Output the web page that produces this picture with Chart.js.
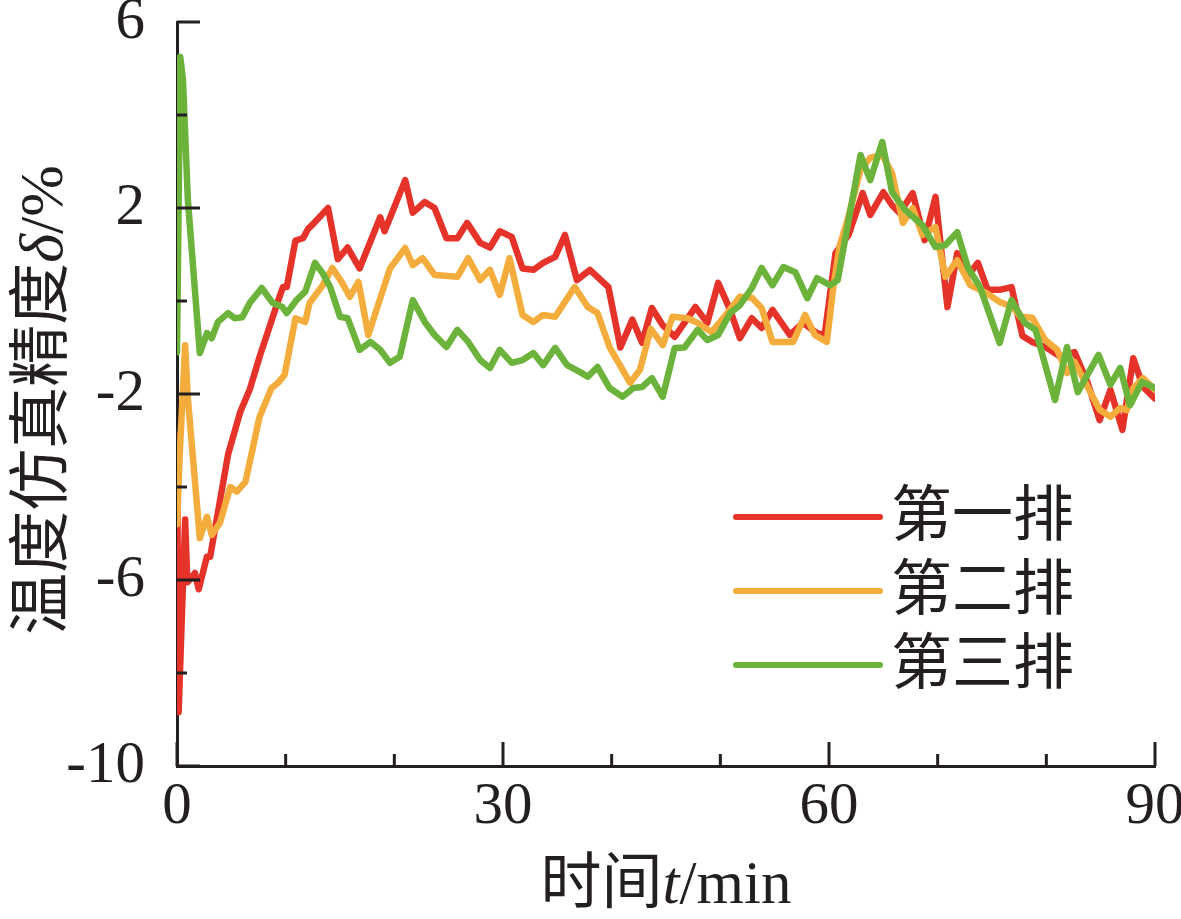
<!DOCTYPE html>
<html>
<head>
<meta charset="utf-8">
<title>温度仿真精度</title>
<script src="https://cdn.jsdelivr.net/npm/chart.js@4.4.1/dist/chart.umd.min.js"></script>
<style>
  html, body { margin: 0; padding: 0; background: #fff; }
  #wrap { width: 1181px; height: 919px; position: relative; }
</style>
</head>
<body>
<div id="wrap"><canvas id="line-chart"></canvas></div>
<script>
// data: waktu (min) & presisi simulasi suhu (%)
const t_pai1 = [0, 0.15, 0.75, 0.95, 1.65, 2, 2.75, 3.05, 3.8, 4.7, 5.8, 6.7, 7.6, 9.3, 9.75, 10.1, 10.9, 11.6, 12.05, 12.5, 13.9, 14.8, 15.7, 16.8, 18.7, 19.1, 21, 21.7, 22.8, 23.7, 24.8, 25.8, 26.7, 27.9, 28.8, 29.7, 30.8, 31.8, 32.8, 33.7, 34.8, 35.7, 36.8, 38, 39.7, 40.8, 41.9, 42.8, 43.7, 44.7, 45.8, 47.7, 48.8, 49.8, 50.9, 51.8, 52.9, 53.8, 54.8, 56.4, 57.6, 58.9, 59.6, 60.6, 61.8, 63.1, 63.8, 65, 65.8, 66.5, 67.7, 68.8, 69.8, 70.9, 71.8, 72.7, 73.7, 74.6, 75.7, 76.8, 77.8, 78.7, 80, 81.3, 82.6, 83.8, 84.9, 85.9, 87, 88, 88.9, 90];
const d_pai1 = [-2.9, -8.84, -4.7, -6.05, -5.85, -6.2, -5.5, -5.5, -4.5, -3.3, -2.4, -1.9, -1.2, 0, 0.3, 0.3, 1.3, 1.35, 1.55, 1.65, 2, 0.9, 1.15, 0.7, 1.8, 1.5, 2.6, 1.9, 2.13, 2, 1.35, 1.35, 1.68, 1.25, 1.15, 1.5, 1.38, 0.7, 0.67, 0.82, 0.95, 1.42, 0.45, 0.67, 0.3, -1, -0.4, -0.9, -0.15, -0.52, -0.77, -0.13, -0.47, 0.39, -0.19, -0.8, -0.37, -0.58, -0.19, -0.73, -0.47, -0.69, -0.73, 1.03, 1.42, 2.32, 1.85, 2.34, 2.06, 1.89, 2.32, 1.31, 2.24, -0.13, 1.03, 0.52, 0.82, 0.24, 0.24, 0.3, -0.75, -0.88, -1.0, -1.2, -1.1, -1.76, -2.56, -1.91, -2.77, -1.23, -1.85, -2.1];

const t_pai2 = [0, 0.25, 0.75, 1, 2.1, 2.75, 3.2, 3.95, 4.9, 5.5, 6.3, 7.6, 8.7, 9.3, 9.9, 10.9, 11.8, 12.2, 13.3, 14.3, 15.2, 15.9, 16.7, 17.6, 19.6, 21, 21.7, 22.6, 23.7, 25.8, 26.8, 27.9, 28.8, 29.7, 30.6, 31.8, 32.8, 33.7, 34.8, 36.6, 37.8, 38.7, 39.8, 41.7, 42.6, 43.6, 44.7, 45.6, 47, 47.9, 49.2, 50.5, 51.8, 52.9, 53.8, 54.8, 56.7, 57.8, 58.7, 59.8, 60.4, 61, 61.7, 62.9, 63.8, 64.9, 65.8, 66.8, 67.7, 68.6, 69.8, 70.7, 71.8, 73, 74.5, 75.7, 76.9, 77.6, 78.7, 79.9, 81, 81.9, 82.6, 83.7, 84.9, 85.9, 86.8, 87.4, 88, 88.9, 90];
const d_pai2 = [-4.8, -3.3, -0.95, -2.1, -5.1, -4.64, -5.03, -4.77, -4, -4.1, -3.89, -2.49, -1.87, -1.76, -1.59, -0.37, -0.45, -0.04, 0.3, 0.71, 0.39, 0.09, 0.41, -0.73, 0.7, 1.14, 0.77, 0.92, 0.56, 0.52, 0.92, 0.45, 0.67, 0.13, 0.92, -0.3, -0.45, -0.3, -0.34, 0.3, -0.13, -0.26, -0.99, -1.76, -1.48, -0.6, -0.95, -0.34, -0.37, -0.47, -0.67, -0.3, 0.09, 0.07, -0.15, -0.88, -0.88, -0.3, -0.73, -0.88, 0.3, 1.2, 1.74, 2.82, 3.08, 3.14, 2.75, 1.68, 2, 1.42, 1.59, 0.52, 0.88, 0.34, 0.17, -0.02, -0.13, -0.34, -0.36, -0.84, -1.05, -1.55, -1.31, -1.8, -2.34, -2.49, -2.3, -2.35, -1.87, -1.66, -1.91];

const t_pai3 = [0, 0.3, 0.55, 1, 2.1, 2.76, 3.2, 3.77, 4.7, 5.3, 6, 6.7, 7.8, 8.8, 9.7, 10.1, 11, 11.8, 12.7, 13.4, 14.1, 15, 15.7, 16.8, 17.8, 18.7, 19.6, 20.5, 21.7, 22.8, 23.7, 24.8, 25.8, 26.8, 27.9, 28.8, 29.7, 30.8, 31.8, 32.8, 33.7, 34.8, 35.9, 37.1, 37.8, 38.7, 39.8, 41, 42, 42.8, 43.7, 44.7, 45.8, 46.7, 47.9, 48.8, 49.8, 50.9, 51.8, 52.9, 53.8, 54.8, 55.8, 56.9, 58, 58.9, 60.1, 60.8, 62.9, 63.8, 64.9, 65.8, 67, 68.6, 69.8, 70.7, 71.8, 72.8, 73.9, 75.7, 76.8, 78, 79, 80.8, 81.9, 82.9, 84.8, 85.9, 86.8, 87.7, 88.8, 90];
const d_pai3 = [-1.1, 5.25, 4.75, 2.17, -1.12, -0.69, -0.8, -0.45, -0.26, -0.37, -0.35, -0.04, 0.28, -0.04, -0.13, -0.26, 0.02, 0.2, 0.82, 0.6, 0.3, -0.34, -0.37, -1.05, -0.88, -1.05, -1.33, -1.2, 0.02, -0.45, -0.73, -0.99, -0.62, -0.88, -1.27, -1.44, -1.05, -1.33, -1.27, -1.12, -1.38, -1.01, -1.38, -1.53, -1.63, -1.42, -1.87, -2.06, -1.87, -1.85, -1.66, -2.06, -1.01, -1, -0.62, -0.84, -0.73, -0.26, -0.09, 0.28, 0.71, 0.34, 0.73, 0.62, 0.06, 0.49, 0.34, 0.45, 3.14, 2.6, 3.42, 2.34, 1.96, 1.63, 1.16, 1.2, 1.48, 0.71, 0.3, -0.9, 0.02, -0.47, -0.62, -2.13, -0.99, -1.96, -1.16, -1.8, -1.44, -2.24, -1.74, -1.87];

const nama_seri = ['第一排', '第二排', '第三排'];
const warna_seri = ['#e6332a', '#f4ad3d', '#6bb33a'];
const label_x = [0, 30, 60, 90];
const label_y = [-10, -6, -2, 2, 6];

const HITAM = '#231f20';
const FONT_ANGKA = '"Liberation Serif", "Times New Roman", serif';
const FONT_CJK = '"Liberation Serif", "Noto Sans CJK SC", serif';

function gabung(t, d) {
    return t.map((x, i) => ({ x: x, y: d[i] }));
}

// tulis teks bersambung (sebagian italic) di tengah titik (cx, cy)
function tulisBagian(ctx, bagian, cx, cy, putar) {
    ctx.save();
    ctx.translate(cx, cy);
    if (putar) ctx.rotate(-Math.PI / 2);
    let total = 0;
    bagian.forEach(b => { ctx.font = b.font; b.w = ctx.measureText(b.text).width; total += b.w; });
    let x = -total / 2;
    ctx.textAlign = 'left';
    ctx.textBaseline = 'middle';
    ctx.fillStyle = HITAM;
    bagian.forEach(b => { ctx.font = b.font; ctx.fillText(b.text, x, 0); x += b.w; });
    ctx.restore();
}

const pluginHiasan = {
    id: 'hiasan',
    afterDraw(chart) {
        const ctx = chart.ctx;
        const area = chart.chartArea;
        const sx = chart.scales.x;
        const sy = chart.scales.y;

        // tick ke dalam
        ctx.save();
        ctx.strokeStyle = HITAM;
        ctx.lineWidth = 3;
        ctx.beginPath();
        sx.ticks.forEach(tk => {
            const px = sx.getPixelForValue(tk.value);
            const len = label_x.includes(tk.value) ? 24 : 12;
            ctx.moveTo(px, area.bottom);
            ctx.lineTo(px, area.bottom - len);
        });
        sy.ticks.forEach(tk => {
            const py = sy.getPixelForValue(tk.value);
            const len = label_y.includes(tk.value) ? 23 : 10;
            ctx.moveTo(area.left, py);
            ctx.lineTo(area.left + len, py);
        });
        ctx.stroke();
        ctx.restore();

        // judul sumbu
        tulisBagian(ctx, [
            { text: '温度仿真精度', font: '62px ' + FONT_CJK },
            { text: 'δ', font: 'italic 62px ' + FONT_ANGKA },
            { text: '/%', font: '62px ' + FONT_ANGKA }
        ], 46, (area.top + area.bottom) / 2 + 6, true);
        tulisBagian(ctx, [
            { text: '时间', font: '61px ' + FONT_CJK },
            { text: 't', font: 'italic 61px ' + FONT_ANGKA },
            { text: '/min', font: '61px ' + FONT_ANGKA }
        ], (area.left + area.right) / 2, 887, false);

        // legenda
        ctx.save();
        chart.data.datasets.forEach((ds, i) => {
            const y = area.top + 495 + i * 74;
            ctx.strokeStyle = ds.borderColor;
            ctx.lineWidth = 6;
            ctx.lineCap = 'round';
            ctx.beginPath();
            ctx.moveTo(area.left + 559, y);
            ctx.lineTo(area.left + 703, y);
            ctx.stroke();
            ctx.fillStyle = HITAM;
            ctx.font = '61px ' + FONT_CJK;
            ctx.textAlign = 'left';
            ctx.textBaseline = 'middle';
            ctx.fillText(ds.label, area.left + 714, y + 3);
        });
        ctx.restore();
    }
};

function grafik_presisi() {
    const ctx = document.getElementById('line-chart').getContext('2d');
    const seri = [gabung(t_pai1, d_pai1), gabung(t_pai2, d_pai2), gabung(t_pai3, d_pai3)];

    const myChart = new Chart(ctx, {
        type: 'line',
        data: {
            datasets: seri.map((s, i) => ({
                label: nama_seri[i],
                data: s,
                borderColor: warna_seri[i],
                borderWidth: 6.5,
                borderJoinStyle: 'round',
                borderCapStyle: 'round',
                pointRadius: 0,
                tension: 0,
                fill: false,
                order: 3 - i
            }))
        },
        options: {
            responsive: true,
            maintainAspectRatio: false,
            animation: false,
            events: [],
            layout: { padding: { left: 0, right: 26, top: 22, bottom: 0 } },
            plugins: {
                legend: { display: false },
                tooltip: { enabled: false }
            },
            scales: {
                x: {
                    type: 'linear',
                    min: 0,
                    max: 90,
                    grid: { display: false, drawTicks: false },
                    border: { display: true, color: HITAM, width: 3 },
                    ticks: {
                        stepSize: 10,
                        autoSkip: false,
                        maxRotation: 0,
                        padding: 6,
                        color: HITAM,
                        font: { family: FONT_ANGKA, size: 59 },
                        callback: v => label_x.includes(v) ? String(v) : ''
                    },
                    afterFit: s => { s.height = 153; s.paddingLeft = 0; s.paddingRight = 0; }
                },
                y: {
                    min: -10,
                    max: 6,
                    grid: { display: false, drawTicks: false },
                    border: { display: true, color: HITAM, width: 3 },
                    ticks: {
                        stepSize: 2,
                        autoSkip: false,
                        padding: 32,
                        color: HITAM,
                        font: { family: FONT_ANGKA, size: 59 },
                        callback: v => label_y.includes(v) ? String(v) : ''
                    },
                    afterFit: s => { s.width = 177; s.paddingTop = 0; s.paddingBottom = 0; }
                }
            }
        },
        plugins: [pluginHiasan]
    });
}

grafik_presisi();
</script>
</body>
</html>
